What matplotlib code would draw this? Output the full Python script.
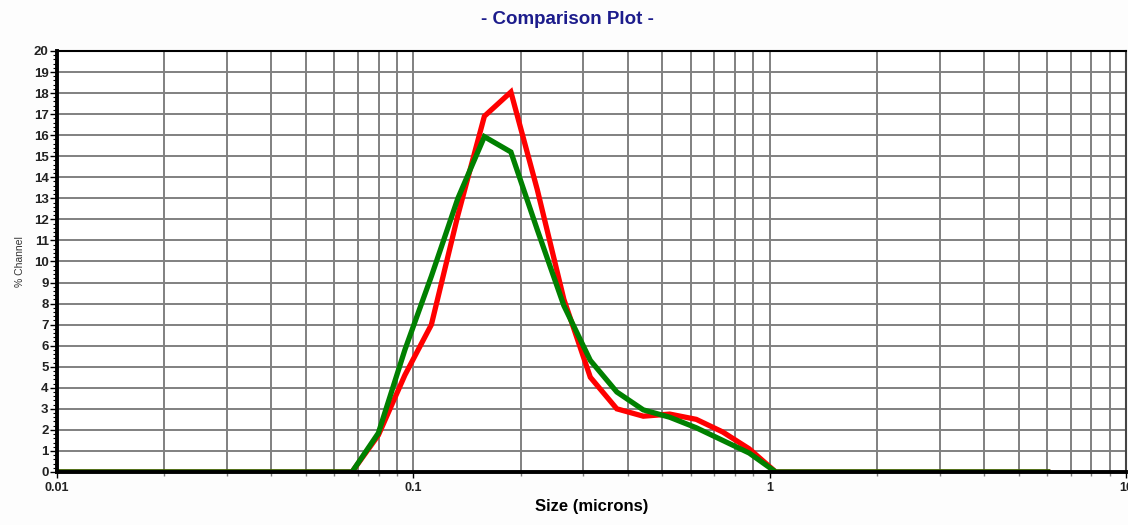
import numpy as np
import matplotlib
matplotlib.use("Agg")
import matplotlib.pyplot as plt
from matplotlib.ticker import FixedLocator, NullFormatter, MultipleLocator

# channel sizes (microns)
sizes = [0.01, 0.0673, 0.0798, 0.0947, 0.1124, 0.1334, 0.1583, 0.1879, 0.2229,
         0.2646, 0.3139, 0.3725, 0.4420, 0.5244, 0.6224, 0.7385, 0.8763, 1.040, 6.03]

red_pct = [0, 0, 1.75, 4.6, 7.0, 12.2, 16.9, 18.05, 13.4,
           8.2, 4.5, 3.0, 2.65, 2.75, 2.5, 1.9, 1.1, 0, 0]
green_pct = [0, 0, 1.85, 5.8, 9.3, 13.0, 15.93, 15.2, 11.5,
             7.9, 5.3, 3.8, 2.95, 2.6, 2.1, 1.5, 0.9, 0, 0]

x_major = [0.01, 0.1, 1, 10]
x_major_labels = ["0.01", "0.1", "1", "10"]

plt.rcParams["font.family"] = ["Liberation Sans", "DejaVu Sans"]

fig = plt.figure(figsize=(11.28, 5.25), dpi=100)
ax = fig.add_axes([0.0505, 0.101, 0.9477, 0.8019])

ax.set_xscale("log")
ax.set_xlim(0.01, 10)
ax.set_ylim(0, 20)

ax.plot(sizes, red_pct, color="#ff0000", linewidth=3.8, solid_joinstyle="miter", zorder=2)
ax.plot(sizes, green_pct, color="#008000", linewidth=3.8, solid_joinstyle="miter", zorder=2.1)

ax.xaxis.set_major_locator(FixedLocator(x_major))
ax.set_xticklabels(x_major_labels)
minors = [m * d for d in (0.01, 0.1, 1) for m in range(2, 10)]
ax.xaxis.set_minor_locator(FixedLocator(minors))
ax.xaxis.set_minor_formatter(NullFormatter())

ax.yaxis.set_major_locator(MultipleLocator(1))
ax.yaxis.set_minor_locator(MultipleLocator(0.2))

ax.grid(which="major", axis="both", color="#808080", linewidth=1.4)
ax.grid(which="minor", axis="x", color="#808080", linewidth=1.4)
ax.set_axisbelow(True)

ax.tick_params(axis="y", which="major", length=5, width=1, pad=1, labelsize=9.5)
ax.tick_params(axis="y", which="minor", length=3, width=0.8)
ax.tick_params(axis="x", which="major", length=4, width=1, pad=3, labelsize=9)
ax.tick_params(axis="x", which="minor", length=3, width=1, color="#808080")
for lab in ax.get_xticklabels() + ax.get_yticklabels():
    lab.set_fontweight("bold")
    lab.set_color("#222222")

ax.spines["left"].set_linewidth(2.8)
ax.spines["bottom"].set_linewidth(2.8)
ax.spines["top"].set_linewidth(1.5)
ax.spines["right"].set_linewidth(1.5)
ax.spines["right"].set_color("#444444")

ax.set_xlabel("Size (microns)", fontsize=12, fontweight="bold", labelpad=4)
ax.set_ylabel("% Channel", fontsize=7.5, labelpad=6, color="#333333")

fig.text(0.503, 0.963, "- Comparison Plot -", ha="center", va="center",
         fontsize=13.5, fontweight="bold", color="#1c1c8c")

fig.savefig("out.png", dpi=100, facecolor="#fdfdfd")
